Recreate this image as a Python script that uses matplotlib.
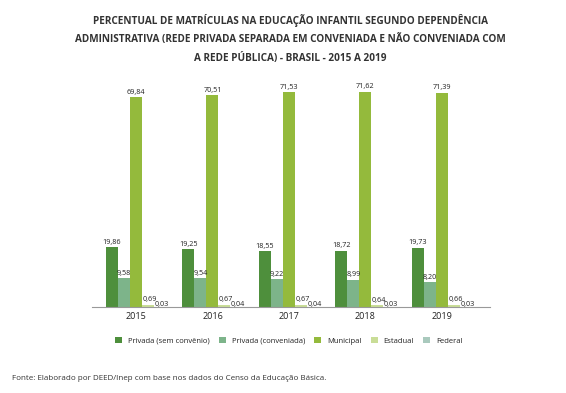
import matplotlib.pyplot as plt
import numpy as np

plt.rcParams["font.family"] = ["Open Sans", "DejaVu Sans"]

years = ["2015", "2016", "2017", "2018", "2019"]
series = ["Privada (sem convênio)", "Privada (conveniada)", "Municipal", "Estadual", "Federal"]
privada_sem = [19.86, 19.25, 18.55, 18.72, 19.73]
privada_conv = [9.58, 9.54, 9.22, 8.99, 8.20]
municipal = [69.84, 70.51, 71.53, 71.62, 71.39]
estadual = [0.69, 0.67, 0.67, 0.64, 0.66]
federal = [0.03, 0.04, 0.04, 0.03, 0.03]
colors = ["#4e8f3c", "#7db48a", "#94ba3c", "#c9dd97", "#a9c9bd"]

values = [privada_sem, privada_conv, municipal, estadual, federal]

fig = plt.figure(figsize=(5.66, 3.93), dpi=100)
ax = fig.add_axes([0.1625, 0.219, 0.7035, 0.611])

x = np.arange(len(years))
width = 0.157
for i, (vals, name, col) in enumerate(zip(values, series, colors)):
    pos = x + (i - 2) * width
    ax.bar(pos, vals, width, color=col, label=name)
    for px, v in zip(pos, vals):
        dy = 0.5 if i < 4 else -0.3
        ax.text(px + (0.02 if i >= 3 else 0), v + dy, f"{v:.2f}".replace(".", ","),
                ha="center", va="bottom", fontsize=5.2, color="#222222")

ax.set_xlim(-0.575, 4.63)
ax.set_ylim(0, 80)
ax.set_xticks(x)
ax.set_xticklabels(years, fontsize=6.5, color="#222222")
ax.tick_params(axis="x", length=0, pad=4)
ax.set_yticks([])
for s in ["top", "right", "left"]:
    ax.spines[s].set_visible(False)
ax.spines["bottom"].set_color("#999999")
ax.spines["bottom"].set_linewidth(0.8)

fig.text(0.513, 0.965,
         "PERCENTUAL DE MATRÍCULAS NA EDUCAÇÃO INFANTIL SEGUNDO DEPENDÊNCIA\n"
         "ADMINISTRATIVA (REDE PRIVADA SEPARADA EM CONVENIADA E NÃO CONVENIADA COM\n"
         "A REDE PÚBLICA) - BRASIL - 2015 A 2019",
         ha="center", va="top", fontsize=7.2, fontweight="bold", color="#333333",
         linespacing=1.95)

fig.legend(loc="center", bbox_to_anchor=(0.51, 0.133), ncol=5, fontsize=5.5,
           frameon=False, handlelength=0.9, handleheight=0.9, handletextpad=0.8,
           columnspacing=1.2, labelcolor="#222222")

fig.text(0.021, 0.038, "Fonte: Elaborado por DEED/Inep com base nos dados do Censo da Educação Básica.",
         ha="left", va="center", fontsize=5.8, color="#333333")

fig.savefig("out.png", dpi=100)
